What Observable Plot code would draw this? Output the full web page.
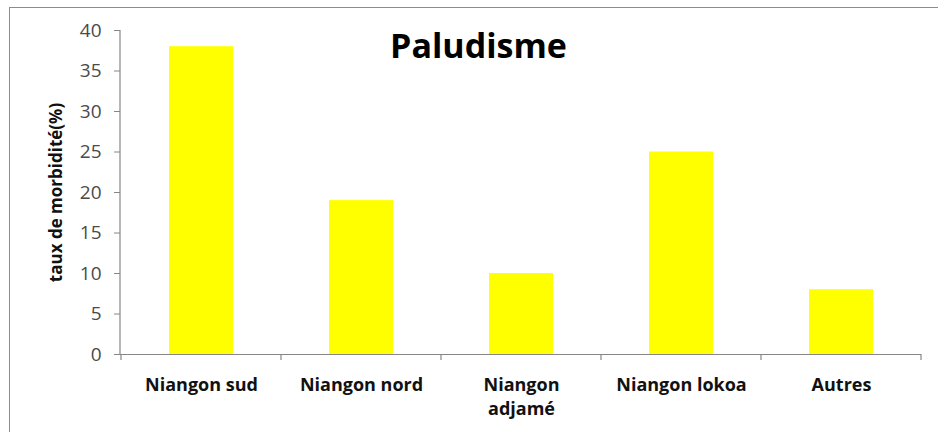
<!DOCTYPE html>
<html>
<head>
<meta charset="utf-8">
<script src="https://cdn.jsdelivr.net/npm/d3@7"></script>
<script src="https://cdn.jsdelivr.net/npm/@observablehq/plot@0.6"></script>
<style>
  html, body { margin: 0; padding: 0; background: #fff; }
  #wrap { position: relative; width: 938px; height: 432px; overflow: hidden; background: #fff; font-family: "Open Sans", sans-serif; }
  #border { position: absolute; left: 9px; top: 7px; width: 1000px; height: 1000px; border-top: 1.5px solid #8c8c8c; border-left: 1.5px solid #8c8c8c; box-sizing: border-box; }
  #title { position: absolute; left: 0; top: 28px; width: 957px; text-align: center; font-family: "Open Sans", sans-serif; font-weight: bold; font-size: 34px; line-height: 34px; color: #000; }
  #chart { position: absolute; left: 0; top: 0; }
</style>
</head>
<body>
<div id="wrap">
  <div id="border"></div>
  <div id="chart"></div>
  <div id="title">Paludisme</div>
</div>
<script>
const categories = ["Niangon sud", "Niangon nord", "Niangon adjamé", "Niangon lokoa", "Autres"];
const values = [38, 19, 10, 25, 8];
const yTicks = [0, 5, 10, 15, 20, 25, 30, 35, 40];
const yLabel = "taux de morbidité(%)";

const data = categories.map((c, i) => ({category: c, value: values[i]}));

function boundaryTicks(index, scales, values, dimensions) {
  const x = scales.x, y = scales.y;
  const n = categories.length;
  const left = dimensions.marginLeft, right = dimensions.width - dimensions.marginRight;
  const step = x.step ? x.step() : (right - left) / n;
  const bw = x.bandwidth ? x.bandwidth() : step * 0.4;
  const y0 = y(0);
  const g = d3.create("svg:g").attr("stroke", "#868686").attr("stroke-width", 1.2).attr("fill", "none");
  const xs = categories.map(c => x(c) - (step - bw) / 2);
  xs.push(x(categories[n - 1]) + bw + (step - bw) / 2);
  for (const xx of xs) {
    g.append("line").attr("x1", xx).attr("x2", xx).attr("y1", y0).attr("y2", y0 + 6);
  }
  // y axis line
  g.append("line").attr("x1", left).attr("x2", left).attr("y1", y(40)).attr("y2", y0);
  return g.node();
}

const chart = Plot.plot({
  width: 938,
  height: 432,
  marginLeft: 120,
  marginRight: 17,
  marginTop: 30,
  marginBottom: 78,
  style: {fontFamily: "Open Sans, sans-serif", background: "transparent"},
  x: {domain: categories, paddingInner: 0.6, paddingOuter: 0.3},
  y: {domain: [0, 40]},
  marks: [
    Plot.barY(data, {x: "category", y: "value", fill: "#FFFF00"}),
    Plot.ruleY([0], {stroke: "#868686", strokeWidth: 1.2}),
    boundaryTicks,
    Plot.axisY({
      ticks: yTicks, tickSize: 6, tickPadding: 13, fontSize: 19, fill: "#4a4a4a", stroke: "#868686",
      label: null
    }),
    Plot.text([yLabel], {
      frameAnchor: "left", textAnchor: "middle", rotate: -90, dx: -64, fontSize: 17, fontWeight: "bold", fill: "#111"
    }),
    Plot.axisX({
      tickSize: 0, tickPadding: 20, fontSize: 18, fontWeight: "bold", fill: "#111", lineHeight: 1.3,
      tickFormat: d => d === "Niangon adjamé" ? "Niangon\nadjamé" : d,
      label: null
    })
  ]
});
document.getElementById("chart").appendChild(chart);
</script>
</body>
</html>
